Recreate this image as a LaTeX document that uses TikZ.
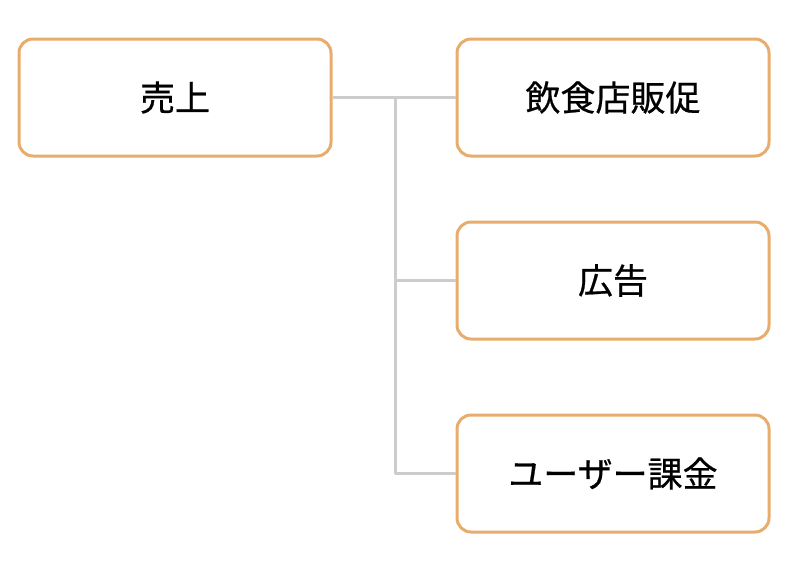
\documentclass[tikz,border=0pt]{standalone}
\usepackage{fontspec}
\newfontfamily\cjk[FakeBold=0.6]{Noto Sans CJK JP}
\begin{document}
\begin{tikzpicture}[x=1pt,y=-1pt,
  box/.style={draw=boxorange,line width=3pt,rounded corners=14pt,fill=white,minimum width=312pt,minimum height=117pt,inner sep=0pt,font=\cjk\fontsize{35}{40}\selectfont},
  conn/.style={draw=linegray,line width=3pt}]
\definecolor{boxorange}{HTML}{E8AC6C}
\definecolor{linegray}{HTML}{CCCCCC}
\useasboundingbox (0,0) rectangle (800,566);
\node[box] (sales) at (175,97.5) {売上};
\node[box] (food) at (613,97.5) {飲食店販促};
\node[box] (ad) at (613,280.5) {広告};
\node[box] (user) at (613,473.5) {ユーザー課金};
\coordinate (j0) at (395,97.5);
\coordinate (j1) at (395,280.5);
\coordinate (j2) at (395,473.5);
\draw[conn] (sales.east) -- (food.west);
\draw[conn] (j0) -- (j2);
\draw[conn] (j1) -- (ad.west);
\draw[conn] (j2) -- (user.west);
\end{tikzpicture}
\end{document}
